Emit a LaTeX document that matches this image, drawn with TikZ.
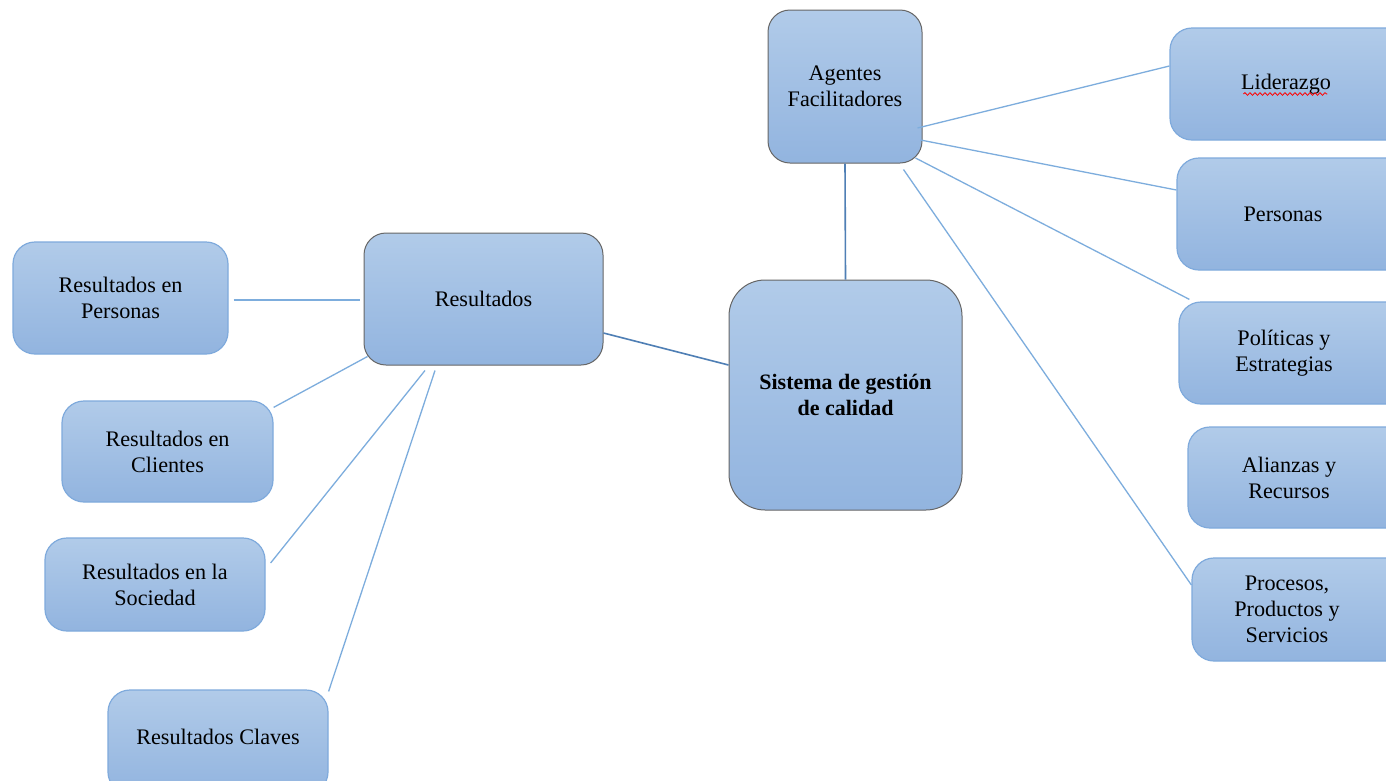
\documentclass[tikz,border=0pt]{standalone}
\usepackage{fontspec}
\setmainfont{Liberation Serif}
\usetikzlibrary{calc,decorations.pathmorphing}
\definecolor{boxtop}{HTML}{B1CBE9}
\definecolor{boxbot}{HTML}{92B4DF}
\definecolor{boxedge}{HTML}{7FAADC}
\definecolor{greyedge}{HTML}{666666}
\definecolor{linkblue}{HTML}{7DADDD}
\definecolor{mainlink}{HTML}{4F7FB5}
% text block centred in the left part of a card that runs off the page
\newcommand{\edgetext}[2]{\makebox[240pt][l]{\parbox{#1}{\centering #2}}}
\tikzset{
  card/.style={rectangle, rounded corners=22pt, top color=boxtop, bottom color=boxbot,
    draw=boxedge, line width=1.2pt, align=center, inner sep=0pt,
    font=\fontsize{22.2}{26}\selectfont},
  keycard/.style={card, draw=greyedge, line width=1pt},
  link/.style={draw=linkblue, line width=1.3pt},
  mainlinkstyle/.style={draw=mainlink, line width=1.6pt}
}
\begin{document}
\begin{tikzpicture}[x=1pt,y=-1pt]
\clip (0,0) rectangle (1386,780);
\fill[white] (0,0) rectangle (1386,780);

% central hub and the two groups
\node[keycard, rounded corners=36pt, minimum width=233pt, minimum height=230pt,
      font=\fontsize{22}{26}\selectfont\bfseries] (sis) at (845.5,395)
      {Sistema de gestión\\de calidad};
\node[keycard, minimum width=154pt, minimum height=153pt] (ag) at (845,86.5)
      {Agentes\\Facilitadores};
\node[keycard, minimum width=239pt, minimum height=132pt] (res) at (483.5,299)
      {Resultados};

% enablers (cards run past the right edge)
\node[card, minimum height=112pt] (lid) at (1290,84) {\edgetext{232pt}{Liderazgo}};
\node[card, minimum height=112pt] (per) at (1297,214) {\edgetext{212pt}{Personas}};
\node[card, minimum height=102pt] (pol) at (1299,353) {\edgetext{210pt}{Políticas y\\Estrategias}};
\node[card, minimum height=101pt] (ali) at (1308,477.5) {\edgetext{202pt}{Alianzas y\\Recursos}};
\node[card, minimum height=103pt] (pro) at (1312,609.5) {\edgetext{190pt}{Procesos,\\Productos y\\Servicios}};

% results
\node[card, minimum width=215pt, minimum height=112pt] (rp) at (120.5,298) {Resultados en\\Personas};
\node[card, minimum width=211pt, minimum height=101pt] (rc) at (167.5,451.5) {Resultados en\\Clientes};
\node[card, minimum width=220pt, minimum height=93pt] (rs) at (155,584.5) {Resultados en la\\Sociedad};
\node[card, minimum width=220pt, minimum height=104pt] (rk) at (218,742) {\raisebox{10pt}{Resultados Claves}};

% spelling mark under Liderazgo
\coordinate (wl) at ($(lid.west)+(74,10)$);
\coordinate (wr) at ($(lid.west)+(158,10)$);
\draw[red, line width=0.8pt, decorate, decoration={snake, amplitude=1.4pt, segment length=5pt}] (wl) -- (wr);

% connectors
\draw[mainlinkstyle] (ag.south) -- (sis.north);
\draw[mainlinkstyle] ($(res.east)+(0,34)$) -- ($(sis.west)+(0,-30)$);
\draw[link] ($(ag.east)+(-5,41.5)$) -- ($(lid.west)+(0,-18)$);
\draw[link] ($(ag.east)+(-2,53.5)$) -- ($(per.west)+(0,-24)$);
\draw[link] ($(ag.east)+(-7,71.5)$) -- ($(pol.north west)+(11,-2)$);
\draw[link] ($(ag.south east)+(-19,6)$) -- ($(pro.west)+(0,-24.5)$);

\draw[link] ($(rp.east)+(5,2)$) -- ($(res.west)+(-4,1)$);
\draw[link] ($(rc.north east)+(0,7)$) -- ($(res.south west)+(4,-9)$);
\draw[link] ($(rs.east)+(5,-21.5)$) -- ($(res.south)+(-58.5,5)$);
\draw[link] ($(rk.north east)+(0,2)$) -- ($(res.south)+(-48.5,5)$);
\end{tikzpicture}
\end{document}
